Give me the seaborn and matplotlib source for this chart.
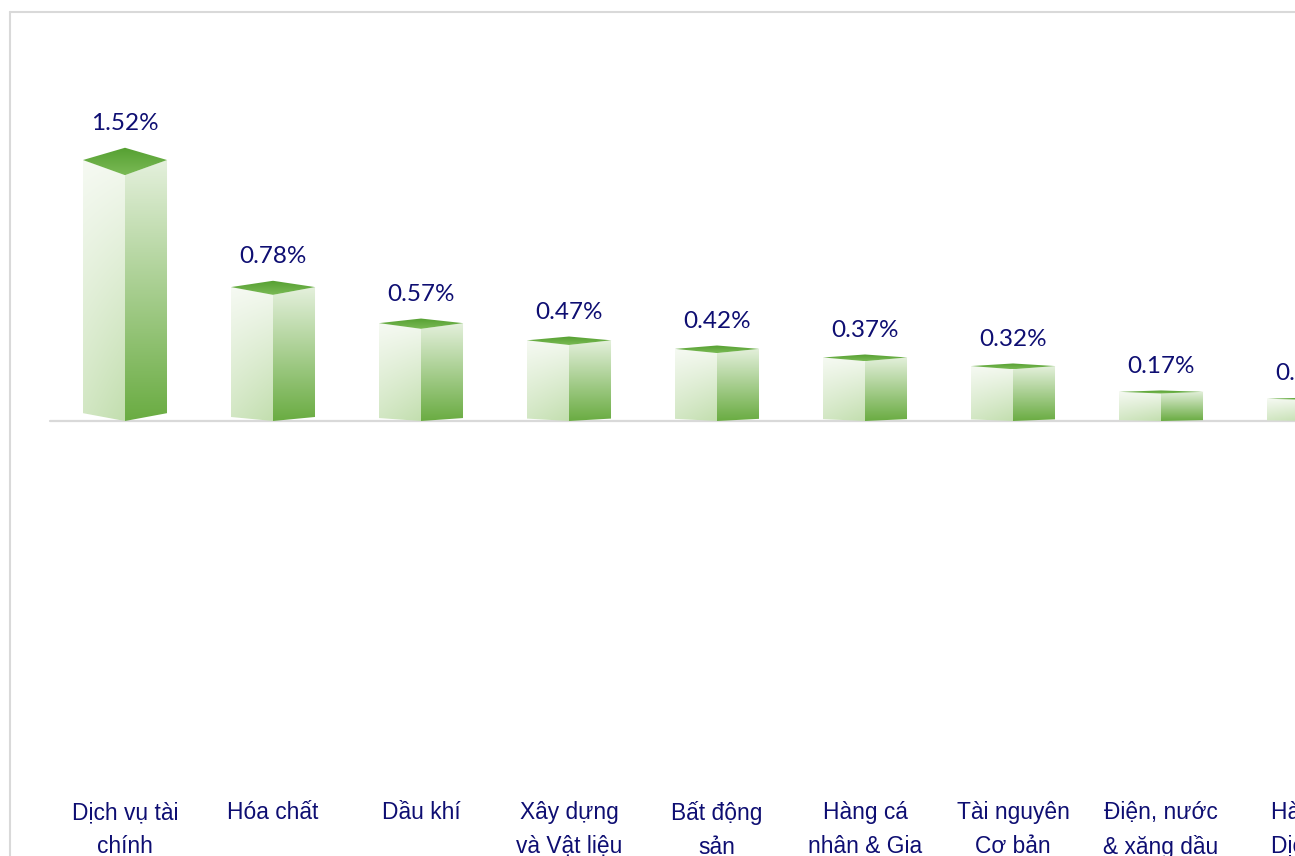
import matplotlib
matplotlib.use("Agg")
import matplotlib.pyplot as plt
import matplotlib.colors as mcolors
from matplotlib.patches import Polygon
from matplotlib.lines import Line2D
import numpy as np
import seaborn as sns

categories = ["Dịch vụ tài\nchính", "Hóa chất", "Dầu khí", "Xây dựng\nvà Vật liệu",
              "Bất động\nsản", "Hàng cá\nnhân & Gia", "Tài nguyên\nCơ bản",
              "Điện, nước\n& xăng dầu", "Hàng &\nDịch vụ"]
values = [1.52, 0.78, 0.57, 0.47, 0.42, 0.37, 0.32, 0.17, 0.13]
value_labels = [f"{v:.2f}%" for v in values]

navy = "#0e0e72"
grid_gray = "#d9d9d9"

sns.set_theme(style="white")
plt.rcParams["font.family"] = ["Liberation Sans", "DejaVu Sans"]

fig = plt.figure(figsize=(12.95, 8.56), dpi=100)
ax = fig.add_axes([0, 66 / 856, 1, 790 / 856])

sns.barplot(x=list(range(len(values))), y=values, width=0.5676, color="#c5e0b4",
            ax=ax, zorder=2)
bars = list(ax.patches)

px_per_unit = 171.7
xlim = (-125 / 148, (1295 - 125) / 148)
ylim = (-(790 - 421) / px_per_unit, 421 / px_per_unit)


def rgb(c):
    return np.array(mcolors.to_rgb(c))


def gradient_face(verts, top_c, bot_c, ext, z, side_light=0.0):
    poly = Polygon(verts, closed=True, facecolor="none", edgecolor="none",
                   transform=ax.transData)
    ax.add_patch(poly)
    n = 200
    t = np.linspace(0, 1, n)[:, None, None]
    s = np.linspace(1, 0, 40)[None, :, None]
    img = rgb(top_c) * (1 - t) + rgb(bot_c) * t
    img = np.repeat(img, 40, axis=1)
    img = img * (1 - side_light * s) + side_light * s
    im = ax.imshow(np.clip(img, 0, 1), extent=ext, origin="upper", aspect="auto",
                   zorder=z, interpolation="bilinear")
    im.set_clip_path(poly)


for bar, v, lab in zip(bars, values, value_labels):
    x0 = bar.get_x()
    w = bar.get_width()
    x1 = x0 + w
    xm = x0 + w * 0.5
    bar.set_visible(False)
    a = 0.047 * v
    b = 0.058 * v
    c = 0.03 * v
    # left face
    gradient_face([(x0, c), (x0, v), (xm, v - b), (xm, 0)],
                  "#f3f8ef", "#c2deae", [x0, xm, 0, v], 3, side_light=0.25)
    # right face
    gradient_face([(xm, 0), (xm, v - b), (x1, v), (x1, c)],
                  "#e4f0dc", "#6aac42", [xm, x1, 0, v], 3)
    # top
    gradient_face([(x0, v), (xm, v + a), (x1, v), (xm, v - b)],
                  "#559f31", "#7aba55", [x0, x1, v - b, v + a], 4)
    ax.text(xm, v + a + 24 / px_per_unit, lab, ha="center", va="center",
            fontsize=17.5, color=navy, family=["Lato", "DejaVu Sans"], zorder=5)

ax.axhline(0, xmin=50 / 1295, xmax=1, color=grid_gray, lw=1.6, zorder=1)

# category labels (the last one sits partly outside the axes, so not as ticks)
cat_trans = ax.get_xaxis_transform()
for i, cat in enumerate(categories):
    ax.annotate(cat, xy=(i, 0), xycoords=cat_trans, xytext=(0, -8),
                textcoords="offset points", ha="center", va="top",
                fontsize=16.4, color=navy, linespacing=1.58,
                annotation_clip=False)

ax.set_xticks([])
ax.set_yticks([])
ax.set_xlabel("")
ax.set_ylabel("")
for sp in ax.spines.values():
    sp.set_visible(False)
ax.patch.set_alpha(0)
ax.set_autoscale_on(False)
ax.set_xlim(*xlim)
ax.set_ylim(*ylim)

# chart border
fig.add_artist(Line2D([10 / 1295, 1], [1 - 12 / 856, 1 - 12 / 856],
                      transform=fig.transFigure, color=grid_gray, lw=1.5))
fig.add_artist(Line2D([10 / 1295, 10 / 1295], [0, 1 - 12 / 856],
                      transform=fig.transFigure, color=grid_gray, lw=1.5))

fig.savefig("out.png", dpi=100)
